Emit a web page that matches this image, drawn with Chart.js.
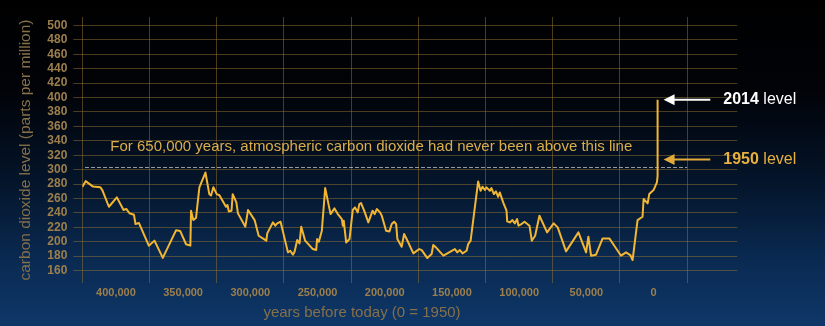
<!DOCTYPE html>
<html>
<head>
<meta charset="utf-8">
<script src="https://cdn.jsdelivr.net/npm/chart.js@4/dist/chart.umd.min.js"></script>
<style>
  html, body { margin: 0; padding: 0; }
  body {
    width: 825px; height: 326px; overflow: hidden;
    background: linear-gradient(to bottom, #000000 0%, #010308 28%, #041429 55%, #0a2a52 80%, #0e3768 100%);
  }
  #wrap { position: relative; width: 825px; height: 326px; }
  canvas { display: block; }
</style>
</head>
<body>
<div id="wrap"><canvas id="co2" width="825" height="326"></canvas></div>
<script>
// Years before 1950 (ice-core record, then the modern rise)
const yearsBP = [
  425000, 422500, 417000, 411600, 410100, 405200, 399300, 394300, 392300, 389900,
  386600, 385400, 382900, 375500, 371300, 365100, 355200, 352200, 347800, 344600,
  344100, 342400, 340400, 337900, 333400, 330500, 329200, 327500, 325000, 323000,
  318100, 317000, 316000, 314000, 313100, 310400, 309200, 303700, 301700, 296800,
  293800, 288100, 287400, 283200, 281400, 280000, 277500, 272000, 270300, 268300,
  267100, 265100, 263400, 262100, 259200, 253500, 251000, 250300, 249000, 246800,
  244300, 240300, 237400, 234900, 231900, 231200, 230500, 228700, 226200, 223800,
  222100, 220100, 218900, 217600, 215100, 212200, 209000, 207500, 205900, 203500,
  202200, 199000, 196500, 194800, 193000, 191500, 190600, 187400, 185600, 183700,
  178700, 174300, 172500, 168300, 165100, 163900, 161400, 156400, 147800, 146000,
  144100, 142100, 139100, 137900, 136100, 130500, 128700, 127200, 125500, 124300,
  121800, 120600, 118800, 117300, 115600, 114400, 111900, 109400, 108900, 106900,
  105000, 103200, 101500, 100500, 99000, 96000, 92300, 90600, 88100, 84900,
  79200, 74300, 71300, 65100, 55900, 50200, 48500, 46500, 42800, 37900,
  32900, 29200, 24200, 20500, 17300, 15600, 11900, 8200, 7400, 4400,
  3200, 0, -2500, -3000, -3000
];

// Carbon dioxide, parts per million
const co2ppm = [
  276, 284, 276.5, 275.5, 271.5, 248.5, 261.5, 244, 245.5, 239.5,
  237.5, 224.5, 226, 194.5, 201.5, 177.5, 216, 215, 196.5, 194.5,
  243, 230, 233, 275.5, 296, 266, 264, 275.5, 266, 264.5,
  248.5, 251, 242, 243, 266, 254.6, 239.3, 220.8, 244, 230,
  208.3, 201.4, 211.5, 226.8, 222.2, 225.4, 227.7, 185.2, 187.5, 182,
  186, 202.3, 197.7, 220.8, 201.4, 189.8, 188.4, 203.7, 200, 215.2,
  274.4, 238.3, 246.2, 238.3, 231.4, 222.2, 229.1, 199, 203.7, 244,
  247.6, 240.7, 252.2, 253.6, 242, 226.8, 243, 238.3, 245.3, 240.7,
  236, 215.2, 214.3, 224.5, 227.7, 224.5, 203.7, 193, 210.6, 203.7,
  183.8, 189.8, 188.4, 177.3, 182.9, 195.4, 191.2, 180.6, 189.8, 185.2,
  188.4, 183.8, 187.5, 196.7, 201.4, 283.7, 270.7, 276.3, 271.7, 275.4,
  270.7, 274.4, 266.1, 269.8, 262.4, 268.4, 254.6, 243, 228.2, 226.8,
  230, 225.4, 231.4, 222.2, 223.6, 227.7, 222.2, 201.4, 208.3, 236,
  212.9, 225.4, 219.9, 186.6, 212.9, 185.2, 206.9, 180.6, 182, 204.6,
  204.6, 194.4, 180.6, 185.2, 181.5, 174.6, 230, 234.6, 259.2, 253.2,
  266.1, 271.7, 282.3, 291, 397
];

// The pre-industrial ceiling drawn as a dashed reference line
const ceilingYears = [423000, -25000];
const ceilingPpm = [303, 303];

// Axis ticks
const yearTicks = [400000, 350000, 300000, 250000, 200000, 150000, 100000, 50000, 0];
const yearGridLines = [425000, 375000, 325000, 275000, 225000, 175000, 125000, 75000, 25000, -25000];
const ppmTicks = [160, 180, 200, 220, 240, 260, 280, 300, 320, 340, 360, 380, 400, 420, 440, 460, 480, 500];

// Marker levels for the right-hand callouts
const level2014 = 397;
const level1950 = 314;

const FONT = '"Liberation Sans", Arial, Helvetica, sans-serif';
const GRID = 'rgba(150,115,50,0.5)';
const TICK_COLOR = '#9c7f4c';
const TITLE_COLOR = '#86704a';
const LINE_GOLD = '#f3b633';

const co2Points = yearsBP.map((x, i) => ({ x, y: co2ppm[i] }));
const ceilingPoints = ceilingYears.map((x, i) => ({ x, y: ceilingPpm[i] }));

function arrow(ctx, x1, x2, y, color) {
  // shaft from x1 to the head, head pointing left at x2
  const head = 11, half = 5.5;
  ctx.save();
  ctx.strokeStyle = color;
  ctx.fillStyle = color;
  ctx.lineWidth = 2;
  ctx.beginPath();
  ctx.moveTo(x1, y);
  ctx.lineTo(x2 + head - 1, y);
  ctx.stroke();
  ctx.beginPath();
  ctx.moveTo(x2, y);
  ctx.lineTo(x2 + head, y - half);
  ctx.lineTo(x2 + head, y + half);
  ctx.closePath();
  ctx.fill();
  ctx.restore();
}

function levelLabel(ctx, x, y, year, color) {
  ctx.save();
  ctx.fillStyle = color;
  ctx.textBaseline = 'middle';
  ctx.textAlign = 'left';
  ctx.font = 'bold 16px ' + FONT;
  ctx.fillText(year, x, y);
  const w = ctx.measureText(year).width;
  ctx.font = '16px ' + FONT;
  ctx.fillText(' level', x + w, y);
  ctx.restore();
}

const callouts = {
  id: 'callouts',
  afterDraw(chart) {
    const { ctx, chartArea } = chart;
    const xs = chart.scales.x, ys = chart.scales.y;

    // caption above the dashed line
    ctx.save();
    ctx.fillStyle = '#dcae4a';
    ctx.font = '15px ' + FONT;
    ctx.textAlign = 'center';
    ctx.textBaseline = 'middle';
    ctx.fillText('For 650,000 years, atmospheric carbon dioxide had never been above this line',
      xs.getPixelForValue(210000), ys.getPixelForValue(332));
    ctx.restore();

    // callouts to the right of the modern spike
    const spikeX = xs.getPixelForValue(-3000);
    const tailX = chartArea.right - 27;
    const textX = chartArea.right - 14;
    const y14 = ys.getPixelForValue(level2014);
    const y50 = ys.getPixelForValue(level1950);
    arrow(ctx, tailX, spikeX + 6, y14, '#ffffff');
    arrow(ctx, tailX, spikeX + 6, y50, '#e3aa3a');
    levelLabel(ctx, textX, y14, '2014', '#ffffff');
    levelLabel(ctx, textX, y50, '1950', '#e8b13f');

    // horizontal axis title
    ctx.save();
    ctx.fillStyle = TITLE_COLOR;
    ctx.font = '15px ' + FONT;
    ctx.textAlign = 'center';
    ctx.textBaseline = 'middle';
    ctx.fillText('years before today (0 = 1950)', 362, 313);
    ctx.restore();
  }
};

new Chart(document.getElementById('co2'), {
  type: 'line',
  data: {
    datasets: [
      {
        data: co2Points,
        borderColor: LINE_GOLD,
        borderWidth: 2,
        pointRadius: 0,
        tension: 0,
        borderJoinStyle: 'round',
        order: 0
      },
      {
        data: ceilingPoints,
        borderColor: 'rgba(205,205,205,0.75)',
        borderWidth: 1,
        borderDash: [4, 2],
        pointRadius: 0,
        order: 1
      }
    ]
  },
  options: {
    responsive: false,
    animation: false,
    events: [],
    layout: { padding: { left: 0, right: 87.7, top: 17, bottom: 0 } },
    plugins: { legend: { display: false }, tooltip: { enabled: false } },
    scales: {
      x: {
        type: 'linear',
        reverse: true,
        min: -62300,
        max: 425000,
        position: 'bottom',
        afterBuildTicks: s => { s.ticks = yearTicks.map(v => ({ value: v })); },
        grid: { display: false, drawTicks: false },
        border: { display: false },
        ticks: {
          color: TICK_COLOR,
          font: { family: FONT, size: 11, weight: 'bold' },
          padding: 3,
          maxRotation: 0,
          autoSkip: false,
          callback: v => Number(v).toLocaleString('en-US')
        },
        afterFit: s => { s.height = 43; }
      },
      xg: {
        type: 'linear',
        reverse: true,
        min: -62300,
        max: 425000,
        position: 'bottom',
        afterBuildTicks: s => { s.ticks = yearGridLines.map(v => ({ value: v })); },
        grid: { color: GRID, lineWidth: 1, drawTicks: false },
        border: { display: false },
        ticks: { display: false },
        afterFit: s => { s.height = 0; }
      },
      y: {
        type: 'linear',
        min: 142.7,
        max: 511.8,
        afterBuildTicks: s => { s.ticks = ppmTicks.map(v => ({ value: v })); },
        grid: { color: GRID, lineWidth: 1, tickLength: 9 },
        border: { display: false },
        ticks: {
          color: TICK_COLOR,
          font: { family: FONT, size: 12, weight: 'bold' },
          padding: 6,
          autoSkip: false
        },
        title: {
          display: true,
          text: 'carbon dioxide level (parts per million)',
          color: TITLE_COLOR,
          font: { family: FONT, size: 15.5 },
          padding: { top: 16, bottom: 0 }
        },
        afterFit: s => { s.width = 82.3; }
      }
    }
  },
  plugins: [callouts]
});
</script>
</body>
</html>
